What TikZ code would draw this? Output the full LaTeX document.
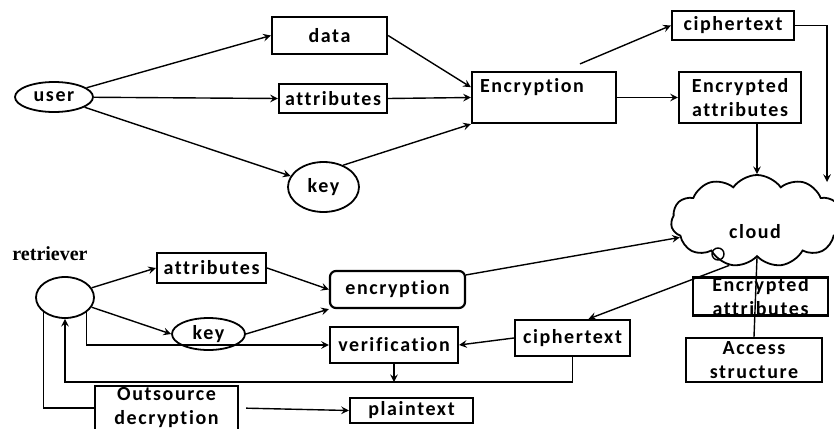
\documentclass[tikz,border=0pt]{standalone}
\usepackage{fontspec}
\setmainfont{Carlito}[LetterSpace=8,Ligatures=NoCommon]
\newfontfamily\retrfont{Liberation Serif}
\usetikzlibrary{shapes.geometric,shapes.symbols,calc}

\begin{document}
\begin{tikzpicture}[
	x=0.5pt, y=-0.5pt, >=stealth, line width=0.7pt,
	every node/.style={ font=\fontsize{10}{12}\selectfont\bfseries },
	box/.style={ rectangle, draw, line width=1.1pt, inner sep=0pt, align=center },
	rbox/.style={ box, rounded corners=3pt },
	party/.style={ ellipse, draw, line width=0.9pt, inner sep=0pt },
	store/.style={ cloud, draw, line width=0.9pt, cloud puffs=11, cloud puff arc=110, aspect=1.9, inner sep=0pt }
]
\useasboundingbox (0,0) rectangle (834,428);

\node at (54,97) (user) [party, minimum width=39pt, minimum height=15pt] {user};

\node at (329.5,35.5) (data) [box, minimum width=57.5pt, minimum height=18.5pt] {data};
\node at (333,98.5) (attrA) [box, minimum width=54pt, minimum height=14.5pt] {attributes};
\node at (323.5,187) (keyA) [party, minimum width=35.5pt, minimum height=25pt] {key};
\draw[->] (user) to (data.west);
\draw[->] (user) to (attrA.west);
\draw[->] (user) to (keyA);

\node at (544,97.5) (enc) [box, minimum width=72pt, minimum height=25.5pt, align=left, text width=64pt] {Encryption\\~};
\draw[->] (data.east) to (enc.172);
\draw[->] (attrA.east) to (enc.west);
\draw[->] (keyA.48) to (enc.south west);

\node at (733,25.5) (ctA) [box, minimum width=61pt, minimum height=14.5pt] {ciphertext};
\node at (740,97.5) (eattrA) [box, minimum width=61pt, minimum height=25.5pt] {Encrypted\\attributes};
\draw[->] ($(enc.north)+(36,-7)$) to (ctA.west);
\draw[->] (enc.east) to (eattrA.west);

\node at (757,221) (store) [store, minimum width=86pt, minimum height=46pt] {};
\node at (755,232) (storetext) {cloud};
\coordinate (cin) at (827,182);
\draw[->] (eattrA.south -| store.north) to (store.north);
\draw[->] (ctA.east) -| (cin);
\draw (718,254) circle (6);

\node at (50,254) (rlabel) {\retrfont\fontsize{10}{12}\selectfont\bfseries retriever};
\node at (65,297.5) (retr) [party, minimum width=29pt, minimum height=20.5pt] {};

\node at (211.5,268) (attrB) [box, minimum width=54.5pt, minimum height=15pt] {attributes};
\node at (208.5,334) (keyB) [party, minimum width=36.5pt, minimum height=16pt] {key};
\node at (397.5,289.5) (encr) [rbox, minimum width=67.5pt, minimum height=18.5pt] {encryption};
\node at (394,345) (verif) [box, minimum width=64pt, minimum height=18pt] {verification};
\node at (572.5,338) (ctB) [box, minimum width=57.5pt, minimum height=18pt] {ciphertext};
\draw[->] (retr.20) to (attrB.west);
\draw[->] (retr.-20) to (keyB.west);
\draw[->] (attrB.east) to (encr.west);
\draw[->] (keyB.east) to (encr.south west);
\draw[->] (retr.-35) |- (verif.west);
\draw[->] (encr.12) to (store.192);
\draw[->] (store.238) to ($(ctB.north)+(16,0)$);
\draw[->] (ctB.west) to (verif.east);

\coordinate (fbk) at ($(ctB.south)+(0,25)$);
\draw[->] (verif.south) to (verif.south |- fbk);
\draw[->] (ctB.south) -- (fbk) -| (retr.south);

\node at (760.5,296.5) (eattrB) [box, minimum width=67.5pt, minimum height=18.5pt] {Encrypted\\attributes};
\node at (754,360) (access) [box, minimum width=68pt, minimum height=22pt] {Access\\structure};
\draw (store.south) to (access.north);

\node at (166.5,408) (outsrc) [box, minimum width=71.5pt, minimum height=22pt] {Outsource\\decryption};
\node at (411.5,410.5) (plain) [box, minimum width=61.5pt, minimum height=12.5pt] {plaintext};
\draw (outsrc.west) -| (retr.215);
\draw[->, shorten <=3.5pt] (outsrc.east) to (plain.west);

\end{tikzpicture}
\end{document}
